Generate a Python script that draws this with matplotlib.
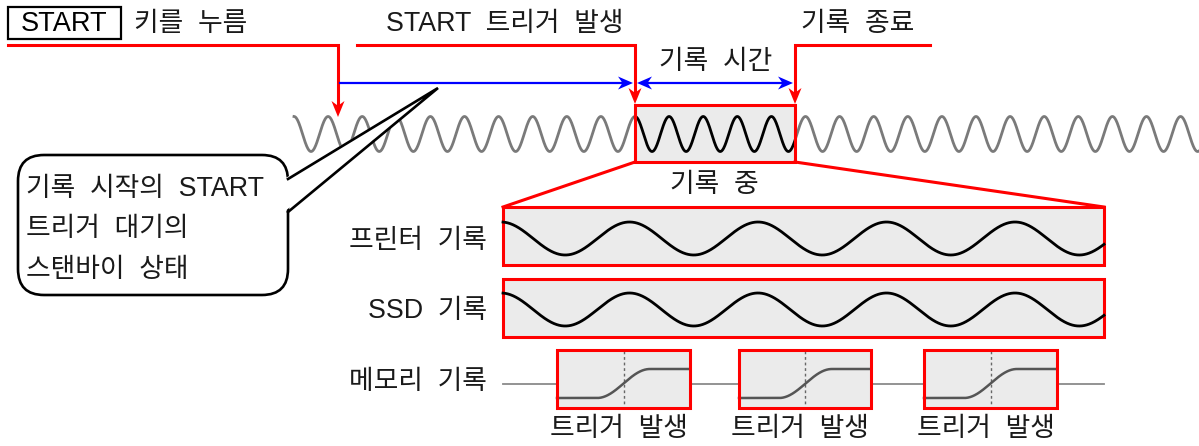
import numpy as np
import matplotlib
matplotlib.use("Agg")
import matplotlib.pyplot as plt
from matplotlib.patches import Polygon, Rectangle, FancyBboxPatch

plt.rcParams['font.family'] = ['Liberation Sans', 'Noto Sans CJK KR', 'DejaVu Sans']

# text of the diagram
top_labels = ["키를  누름", "START  트리거  발생", "기록  종료"]
span_label = "기록  시간"
zoom_label = "기록  중"
row_labels = ["프린터  기록", "SSD  기록", "메모리  기록"]
bubble_lines = ["기록  시작의  START", "트리거  대기의", "스탠바이  상태"]
trigger_label = "트리거  발생"

# wave (pixels)
signal_period = 34.1
signal_amp = 17.5
record_period = 128.5
record_amp = 16.5
memory_boxes = [(557, 690), (739, 871), (924, 1057)]

RED = "#ff0000"
BLUE = "#0000ff"
TXT = "#1a1a1a"
FILL = "#ebebeb"
FS = 19.3


def arrow_head(ax, tip, direction, color, length=16, width=13, zorder=6):
    '''
    Draw a notched (stealth) arrow head with its tip at tip.
    '''
    d = np.array(direction, float)
    d /= np.hypot(*d)
    n = np.array([-d[1], d[0]])
    tip = np.array(tip, float)
    base = tip - d * length
    pts = [tip, base + n * width / 2, tip - d * length * 0.7, base - n * width / 2]
    ax.add_patch(Polygon(pts, closed=True, color=color, lw=0, zorder=zorder))


def main():
    fig = plt.figure(figsize=(11.99, 4.46), dpi=100)
    ax = fig.add_axes([0, 0, 1, 1])
    ax.set_xlim(0, 1199)
    ax.set_ylim(446, 0)
    ax.axis("off")

    # START key box and top labels
    ax.add_patch(Rectangle((8, 7), 113, 32, fill=False, ec="black", lw=1.6, zorder=3))
    ax.text(64.5, 24, "START", fontsize=19.5, ha="center", va="center", color="black")
    ax.text(134, 24, top_labels[0], fontsize=FS, ha="left", va="center", color=TXT)
    ax.text(386, 24, top_labels[1], fontsize=FS, ha="left", va="center", color=TXT)
    ax.text(801, 24, top_labels[2], fontsize=FS, ha="left", va="center", color=TXT)

    # red marker lines with arrows
    lw_red = 2.2
    ax.plot([8, 338, 338], [45, 45, 105], color=RED, lw=lw_red, solid_joinstyle="miter")
    arrow_head(ax, (338, 117), (0, 1), RED)
    ax.plot([357, 635, 635], [45, 45, 92], color=RED, lw=lw_red, solid_joinstyle="miter")
    arrow_head(ax, (635, 104), (0, 1), RED)
    ax.plot([930, 795, 795], [45, 45, 92], color=RED, lw=lw_red, solid_joinstyle="miter")
    arrow_head(ax, (795, 104), (0, 1), RED)

    # blue time spans
    ax.plot([340, 622], [83, 83], color=BLUE, lw=1.6)
    arrow_head(ax, (633, 83), (1, 0), BLUE, length=15, width=13)
    ax.plot([648, 782], [83, 83], color=BLUE, lw=1.6)
    arrow_head(ax, (637, 83), (-1, 0), BLUE, length=15, width=13)
    arrow_head(ax, (793, 83), (1, 0), BLUE, length=15, width=13)
    ax.text(716, 62, span_label, fontsize=FS, ha="center", va="center", color=TXT)

    # input signal
    x = np.linspace(294, 1199, 3000)
    y = 134 - signal_amp * np.cos(2 * np.pi * (x - 294) / signal_period)
    ax.plot(x, y, color="#7a7a7a", lw=2.0, zorder=2)
    ax.add_patch(Rectangle((635, 105), 160, 57, fc=FILL, ec="none", zorder=3))
    inside = (x >= 635) & (x <= 795)
    ax.plot(x[inside], y[inside], color="black", lw=2.0, zorder=4)
    ax.add_patch(Rectangle((635, 105), 160, 57, fill=False, ec=RED, lw=lw_red, zorder=5))
    ax.text(714, 185, zoom_label, fontsize=FS, ha="center", va="center", color=TXT)

    # zoom lines
    ax.plot([635, 503], [162, 207], color=RED, lw=lw_red, zorder=4)
    ax.plot([795, 1104], [162, 207], color=RED, lw=lw_red, zorder=4)

    # printer / SSD records
    xr = np.linspace(503, 1104, 1500)
    for top, center, label in [(207, 238.5, row_labels[0]), (279, 309.5, row_labels[1])]:
        ax.add_patch(Rectangle((503, top), 601, 58, fc=FILL, ec=RED, lw=lw_red, zorder=3))
        yr = center - record_amp * np.cos(2 * np.pi * (xr - 501) / record_period)
        ax.plot(xr, yr, color="black", lw=2.0, zorder=4)
        ax.text(487, center + 2, label, fontsize=FS, ha="right", va="center", color=TXT)

    # memory record
    ax.plot([503, 1104], [384, 384], color="#8a8a8a", lw=1.3, zorder=2)
    ax.text(487, 382, row_labels[2], fontsize=FS, ha="right", va="center", color=TXT)
    for left, right in memory_boxes:
        ax.add_patch(Rectangle((left, 350), right - left, 58, fc=FILL, ec="none", zorder=3))
        mid = (left + right) / 2
        ax.plot([mid, mid], [351, 407], color="#666666", lw=1.0, ls=(0, (2, 2)), zorder=4)
        xm = np.linspace(left, right, 300)
        t = np.clip((xm - (left + 40)) / 53, 0, 1)
        ym = 398 - 29 * (1 - np.cos(np.pi * t)) / 2
        ax.plot(xm, ym, color="#555555", lw=1.8, zorder=4)
        ax.add_patch(Rectangle((left, 350), right - left, 58, fill=False, ec=RED, lw=lw_red, zorder=5))
        ax.text(mid - 5, 429, trigger_label, fontsize=FS, ha="center", va="center", color=TXT)

    # speech bubble
    ax.add_patch(FancyBboxPatch((18, 155), 270, 140, boxstyle="round,pad=0,rounding_size=26",
                                fc="white", ec="black", lw=1.9, zorder=7))
    ax.add_patch(Polygon([(284, 179), (438, 88), (284, 212)], closed=True,
                         fc="white", ec="none", zorder=8))
    ax.plot([288, 438, 288], [179, 88, 212], color="black", lw=1.9, zorder=9,
            solid_joinstyle="miter")
    for i, line in enumerate(bubble_lines):
        ax.text(26, 189 + 40.5 * i, line, fontsize=FS, ha="left", va="center",
                color=TXT, zorder=10)

    fig.savefig("out.png", dpi=100)


if __name__ == "__main__":
    main()
